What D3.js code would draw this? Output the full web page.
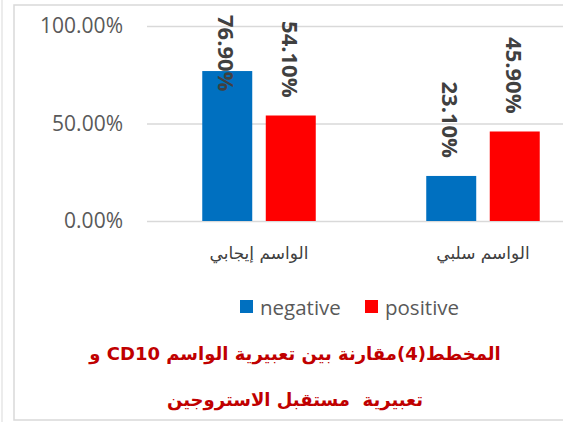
<!DOCTYPE html>
<html>
<head>
<meta charset="utf-8">
<script src="https://cdn.jsdelivr.net/npm/d3@7"></script>
<style>
  body { margin: 0; background: #fff; }
  svg { display: block; }
</style>
</head>
<body>
<svg id="chart" width="563" height="422"></svg>
<script>
// data
const categories = ["الواسم إيجابي", "الواسم سلبي"];
const seriesNames = ["negative", "positive"];
const negativeValues = [0.769, 0.231];
const positiveValues = [0.541, 0.459];
const yTicks = [0, 0.5, 1];
const titleLines = ["المخطط(4)مقارنة بين تعبيرية الواسم CD10 و", "تعبيرية  مستقبل الاستروجين"];

const colors = {negative: "#0070C0", positive: "#FF0000"};

const svg = d3.select("#chart");

// frame
svg.append("line").attr("x1", 2).attr("x2", 2).attr("y1", 0).attr("y2", 422)
  .attr("stroke", "#e6e6e6").attr("stroke-width", 1.5);
svg.append("rect").attr("x", 14).attr("y", 5).attr("width", 600).attr("height", 415)
  .attr("fill", "none").attr("stroke", "#d9d9d9").attr("stroke-width", 1.5);

const y = d3.scaleLinear().domain([0, 1]).range([221, 26]);
const x0 = d3.scaleBand().domain(categories).range([147, 595])
  .paddingInner(0.4933).paddingOuter(0.2467);
const x1 = d3.scaleBand().domain(seriesNames).range([0, x0.bandwidth()]).paddingInner(0.213);

// grid + y axis
const yAxis = svg.append("g").attr("transform", "translate(147,0)")
  .call(d3.axisLeft(y).tickValues(yTicks).tickFormat(d3.format(".2%")).tickSize(-470).tickPadding(24));
yAxis.select(".domain").remove();
yAxis.selectAll(".tick line").attr("stroke", "#d9d9d9").attr("stroke-width", 1.5);
yAxis.selectAll(".tick text").attr("fill", "#595959")
  .style("font-family", "'Open Sans', sans-serif").style("font-size", "21px");

const rows = categories.map((c, i) => ({cat: c, vals: [
  {key: "negative", v: negativeValues[i]},
  {key: "positive", v: positiveValues[i]}
]}));

const groups = svg.selectAll(".grp").data(rows).enter().append("g")
  .attr("class", "grp")
  .attr("transform", d => "translate(" + x0(d.cat) + ",0)");

groups.selectAll("rect").data(d => d.vals).enter().append("rect")
  .attr("x", d => x1(d.key))
  .attr("y", d => y(d.v))
  .attr("width", x1.bandwidth())
  .attr("height", d => y(0) - y(d.v))
  .attr("fill", d => colors[d.key]);

// data labels, rotated
groups.selectAll(".lbl").data(d => d.vals).enter().append("text")
  .attr("class", "lbl")
  .text(d => d3.format(".2%")(d.v))
  .style("font-family", "'Open Sans', sans-serif")
  .style("font-weight", "bold")
  .style("font-size", "22px")
  .attr("fill", "#404040")
  .attr("dominant-baseline", "central")
  .each(function(d) {
    const len = this.getComputedTextLength();
    const cx = x1(d.key) + x1.bandwidth() / 2;
    const start = Math.max(15, y(d.v) - 18 - len);
    d3.select(this).attr("transform", "translate(" + cx + "," + start + ") rotate(90)");
  });

// category labels
svg.selectAll(".cat").data(categories).enter().append("text")
  .attr("class", "cat")
  .attr("x", d => x0(d) + x0.bandwidth() / 2)
  .attr("y", 259)
  .attr("text-anchor", "middle")
  .attr("fill", "#404040")
  .style("font-family", "'DejaVu Serif', 'DejaVu Sans', serif")
  .style("font-size", "17px")
  .text(d => d);

// legend
const legend = svg.append("g").attr("transform", "translate(240,300)");
const legendX = [0, 125];
seriesNames.forEach((s, i) => {
  legend.append("rect").attr("x", legendX[i]).attr("y", 0).attr("width", 13).attr("height", 13)
    .attr("fill", colors[s]);
  legend.append("text").attr("x", legendX[i] + 20).attr("y", 15)
    .attr("fill", "#595959")
    .style("font-family", "'Open Sans', sans-serif").style("font-size", "20.5px")
    .text(s);
});

// title
svg.selectAll(".title").data(titleLines).enter().append("text")
  .attr("class", "title")
  .attr("x", 295)
  .attr("y", (d, i) => 360 + i * 46)
  .attr("text-anchor", "middle")
  .attr("direction", "rtl")
  .attr("fill", "#C00000")
  .style("font-family", "'DejaVu Sans', sans-serif")
  .style("font-weight", "bold")
  .style("font-size", "18px")
  .style("white-space", "pre")
  .text(d => d);
</script>
</body>
</html>
